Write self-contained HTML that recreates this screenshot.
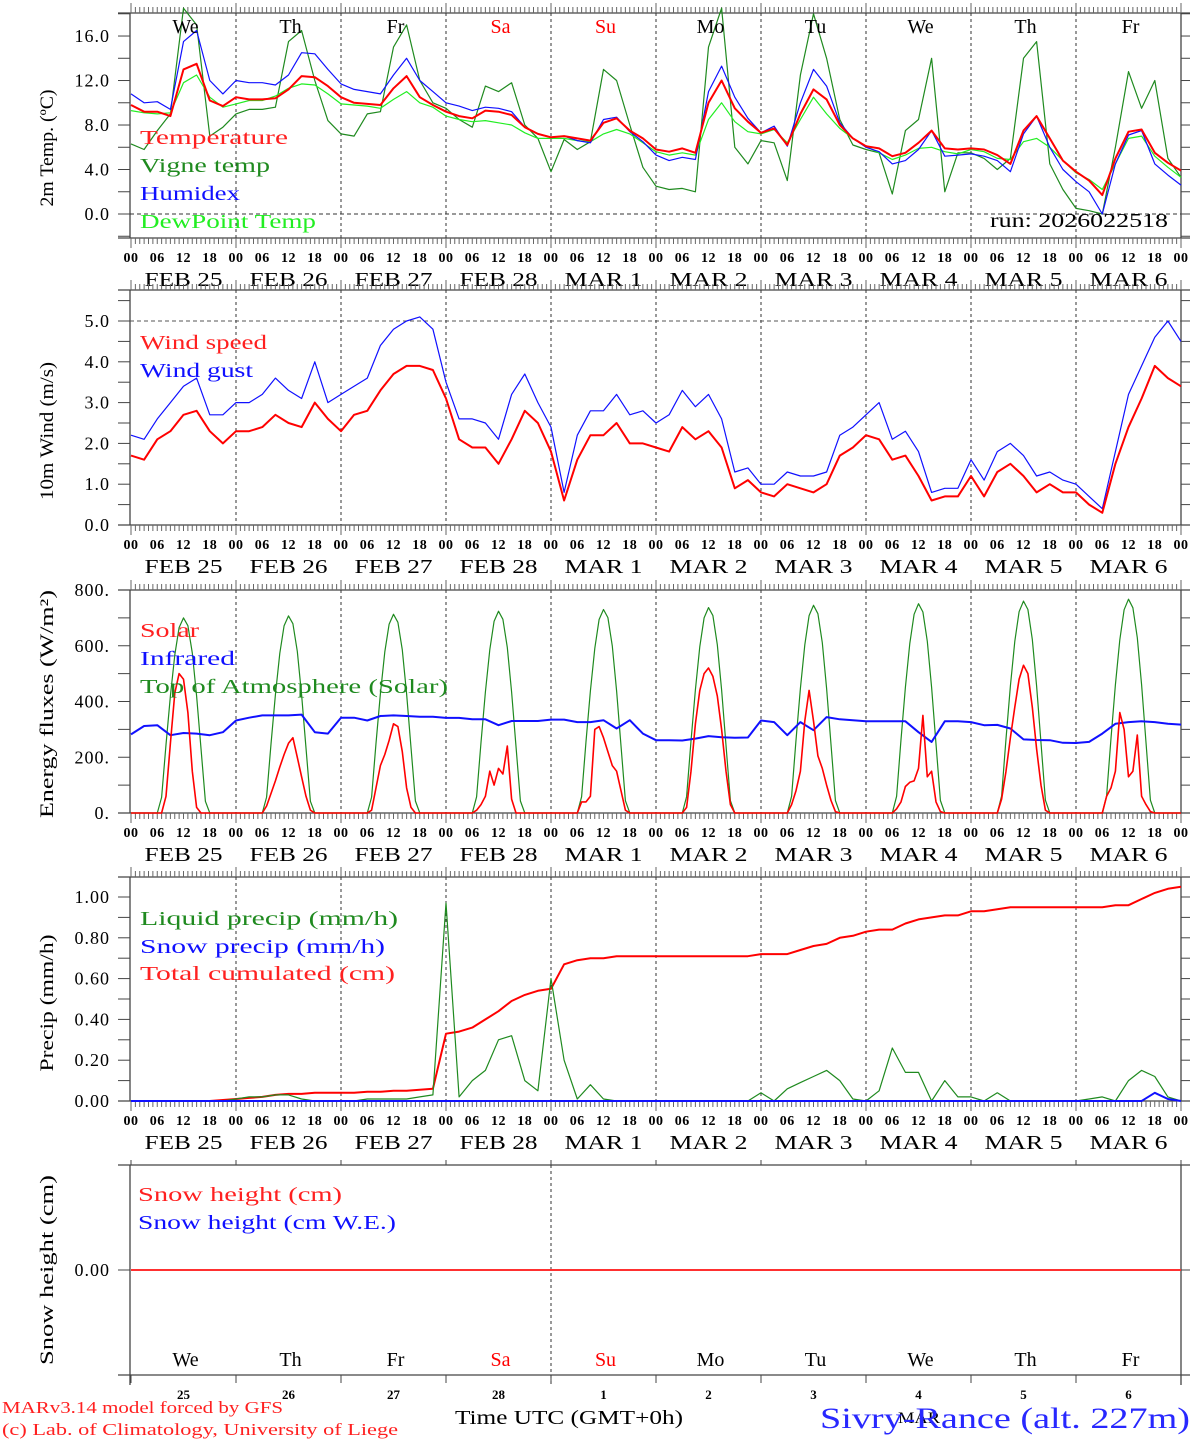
<!DOCTYPE html>
<html><head><meta charset="utf-8">
<style>
html,body{margin:0;padding:0;background:#fff;}
svg{display:block;font-family:"Liberation Serif",serif;}
</style></head>
<body>
<svg id="chart" width="1194" height="1440" viewBox="0 0 1194 1440" xmlns="http://www.w3.org/2000/svg"></svg>
<script>
// ---------- DATA (3-hourly, 81 points, Feb 25 00 UTC → Mar 7 00 UTC) ----------
const days = ["We","Th","Fr","Sa","Su","Mo","Tu","We","Th","Fr"];
const dayColors = ["#000","#000","#000","#f00","#f00","#000","#000","#000","#000","#000"];
const dateLabels = ["FEB 25","FEB 26","FEB 27","FEB 28","MAR  1","MAR  2","MAR  3","MAR  4","MAR  5","MAR  6"];
const dayNums = ["25","26","27","28","1","2","3","4","5","6"];
const hourLabels = ["00","06","12","18"];

const temp = [9.8,9.2,9.2,8.8,13.0,13.5,10.2,9.7, 10.5,10.3,10.3,10.4,11.2,12.4,12.3,11.5, 10.5,10.0,9.9,9.8,11.3,12.4,10.5,9.8,
  9.2,8.8,8.6,9.3,9.2,8.9,7.8,7.2, 6.9,7.0,6.8,6.6,8.2,8.6,7.5,6.8, 5.8,5.6,5.9,5.5,10.0,12.0,9.5,8.3,
  7.3,7.7,6.2,9.0,11.2,10.3,8.0,6.8, 6.1,5.9,5.2,5.5,6.4,7.5,5.9,5.8, 5.9,5.8,5.3,4.5,7.5,8.8,6.8,4.8,
  3.8,3.0,1.7,5.0,7.4,7.6,5.5,4.6, 3.9];
const humidex = [10.8,10.0,10.1,9.4,15.5,16.5,12.0,10.8, 12.0,11.8,11.8,11.6,12.5,14.5,14.4,13.0, 11.7,11.2,11.0,10.8,12.5,14.0,12.0,11.0,
  10.0,9.7,9.3,9.6,9.5,9.2,7.8,7.2, 6.9,7.0,6.6,6.4,8.5,8.7,7.4,6.5, 5.3,4.8,5.1,4.9,11.0,13.3,10.5,8.6,
  7.3,7.9,6.1,10.0,13.0,11.5,8.2,6.8, 6.0,5.6,4.5,4.8,5.8,7.5,5.2,5.3, 5.4,5.2,4.8,3.8,7.2,8.8,6.0,4.0,
  2.9,2.0,0.0,4.5,7.1,7.5,4.5,3.5, 2.6];
const dewpoint = [9.3,9.1,9.0,9.1,11.8,12.5,10.5,9.6, 9.9,10.2,10.2,10.6,11.3,11.7,11.6,10.8, 9.9,9.8,9.7,9.5,10.3,11.0,10.0,9.6,
  8.8,8.5,8.3,8.4,8.2,8.0,7.3,6.8, 6.8,6.8,6.6,6.5,7.2,7.6,7.2,6.4, 5.6,5.3,5.5,5.3,8.5,10.0,8.3,7.4,
  7.2,7.6,6.4,8.5,10.5,9.0,7.7,6.8, 6.1,5.5,4.9,5.3,5.9,6.0,5.6,5.4, 5.8,5.6,5.0,4.9,6.5,6.8,6.0,4.8,
  3.7,3.1,2.2,4.5,6.8,7.0,5.2,4.2, 3.3];
const vigne = [6.3,5.8,7.5,9.0,18.5,17.0,7.0,7.8, 9.0,9.4,9.4,9.6,15.5,16.5,12.0,8.4, 7.2,7.0,9.0,9.2,15.0,17.0,12.0,10.0,
  9.5,8.5,7.8,11.5,11.0,11.8,8.0,6.8, 3.8,6.7,5.8,6.5,13.0,12.0,8.0,4.2, 2.5,2.2,2.3,2.0,15.0,18.5,6.0,4.5,
  6.6,6.4,3.0,12.5,18.0,14.0,8.5,6.2, 5.8,5.5,1.8,7.5,8.5,14.0,2.0,5.5, 5.5,5.0,4.0,5.0,14.0,15.5,4.5,2.2,
  0.5,0.3,0.0,6.0,12.8,9.5,12.0,5.0, 3.3];

const windSpeed = [1.7,1.6,2.1,2.3,2.7,2.8,2.3,2.0, 2.3,2.3,2.4,2.7,2.5,2.4,3.0,2.6, 2.3,2.7,2.8,3.3,3.7,3.9,3.9,3.8,
  3.1,2.1,1.9,1.9,1.5,2.1,2.8,2.5, 1.8,0.6,1.6,2.2,2.2,2.5,2.0,2.0, 1.9,1.8,2.4,2.1,2.3,1.9,0.9,1.1,
  0.8,0.7,1.0,0.9,0.8,1.0,1.7,1.9, 2.2,2.1,1.6,1.7,1.2,0.6,0.7,0.7, 1.2,0.7,1.3,1.5,1.2,0.8,1.0,0.8,
  0.8,0.5,0.3,1.5,2.4,3.1,3.9,3.6, 3.4];
const windGust = [2.2,2.1,2.6,3.0,3.4,3.6,2.7,2.7, 3.0,3.0,3.2,3.6,3.3,3.1,4.0,3.0, 3.2,3.4,3.6,4.4,4.8,5.0,5.1,4.8,
  3.5,2.6,2.6,2.5,2.1,3.2,3.7,3.0, 2.4,0.8,2.2,2.8,2.8,3.2,2.7,2.8, 2.5,2.7,3.3,2.9,3.2,2.6,1.3,1.4,
  1.0,1.0,1.3,1.2,1.2,1.3,2.2,2.4, 2.7,3.0,2.1,2.3,1.8,0.8,0.9,0.9, 1.6,1.1,1.8,2.0,1.7,1.2,1.3,1.1,
  1.0,0.7,0.4,1.8,3.2,3.9,4.6,5.0, 4.5];

// energy: hourly values for hours 06..18 of each day (night = 0)
const solarDay = [
  [0,0,60,250,430,500,480,360,150,20,0,0,0],
  [0,25,70,115,165,210,250,270,200,130,60,10,0],
  [0,10,90,170,210,260,320,310,220,90,20,0,0],
  [0,10,30,60,150,100,160,140,240,50,0,0,0],
  [0,40,40,60,300,310,270,220,170,150,80,10,0],
  [0,20,150,320,440,500,520,490,420,300,150,30,0],
  [0,30,80,150,330,440,330,205,160,100,45,5,0],
  [0,15,40,95,110,115,160,350,130,150,40,5,0],
  [0,50,150,270,380,480,530,500,380,230,100,10,0],
  [0,60,90,150,360,300,130,150,280,60,30,5,0]];
const toaDay = [
  [0,56,245,420,567,665,700,672,574,420,231,42,0],
  [0,57,247,424,573,672,707,679,580,424,233,42,0],
  [0,57,250,428,578,677,713,684,585,428,235,43,0],
  [0,58,253,434,586,688,724,695,594,434,239,43,0],
  [0,58,256,438,591,694,730,701,599,438,241,44,0],
  [0,59,258,442,597,700,737,708,604,442,243,44,0],
  [0,60,261,447,603,708,745,715,611,447,246,45,0],
  [0,60,263,451,608,713,751,721,616,451,248,45,0],
  [0,61,266,456,616,722,760,730,623,456,251,46,0],
  [0,61,268,460,621,729,767,736,629,460,253,46,0]];
const infrared = [282,312,315,279,287,285,279,290, 332,342,350,350,350,353,290,285, 342,342,332,348,350,348,345,345,
  341,341,336,336,315,330,330,330, 335,335,326,326,333,303,333,285, 261,261,260,267,276,272,270,271,
  332,326,279,326,297,344,336,333, 329,329,329,329,290,255,329,329, 326,315,316,303,264,262,261,252,
  251,255,285,320,326,329,326,320, 317];

const liquid = [0,0,0,0,0,0,0,0, 0.01,0.02,0.02,0.03,0.03,0.01,0,0, 0,0,0.01,0.01,0.01,0.01,0.02,0.03,
  0.97,0.02,0.1,0.15,0.3,0.32,0.1,0.05, 0.6,0.2,0.01,0.08,0.01,0,0,0, 0,0,0,0,0,0,0,0,
  0.04,0,0.06,0.09,0.12,0.15,0.1,0.01, 0,0.05,0.26,0.14,0.14,0.0,0.1,0.02, 0.02,0,0.04,0,0,0,0,0,
  0,0.01,0.02,0,0.1,0.15,0.12,0.02, 0];
const snowPrecip = [0,0,0,0,0,0,0,0, 0,0,0,0,0,0,0,0, 0,0,0,0,0,0,0,0, 0,0,0,0,0,0,0,0, 0,0,0,0,0,0,0,0,
  0,0,0,0,0,0,0,0, 0,0,0,0,0,0,0,0, 0,0,0,0,0,0,0,0, 0,0,0,0,0,0,0,0, 0,0,0,0,0,0,0.04,0.01, 0];
const cumul = [0,0,0,0,0,0,0,0.005, 0.01,0.015,0.02,0.03,0.035,0.035,0.04,0.04, 0.04,0.04,0.045,0.045,0.05,0.05,0.055,0.06,
  0.33,0.34,0.36,0.40,0.44,0.49,0.52,0.54, 0.55,0.67,0.69,0.70,0.70,0.71,0.71,0.71, 0.71,0.71,0.71,0.71,0.71,0.71,0.71,0.71,
  0.72,0.72,0.72,0.74,0.76,0.77,0.80,0.81, 0.83,0.84,0.84,0.87,0.89,0.90,0.91,0.91, 0.93,0.93,0.94,0.95,0.95,0.95,0.95,0.95,
  0.95,0.95,0.95,0.96,0.96,0.99,1.02,1.04, 1.05];
const snowHeight = new Array(81).fill(0);
const snowWE = new Array(81).fill(0);

const yTicksTemp = [0,4,8,12,16];
const yTicksWind = [0,1,2,3,4,5];
const yTicksEnergy = [0,200,400,600,800];
const yTicksPrecip = [0,0.2,0.4,0.6,0.8,1.0];

// ---------- RENDER ----------
const NS = "http://www.w3.org/2000/svg";
const svg = document.getElementById("chart");
const X0 = 131, X1 = 1181;
const xH = h => X0 + h * (X1 - X0) / 240;
function el(tag, attrs, parent) {
  const e = document.createElementNS(NS, tag);
  for (const k in attrs) e.setAttribute(k, attrs[k]);
  (parent || svg).appendChild(e);
  return e;
}
function txt(str, attrs, parent) {
  const e = el("text", attrs, parent);
  e.setAttribute("xml:space", "preserve");
  e.textContent = str;
  return e;
}
function yScale(p) { return v => p.bot - (v - p.min) * (p.bot - p.top) / (p.max - p.min); }

const panels = [
  {top:13, bot:238, min:-2.157, max:18.07, ticks:yTicksTemp, minor:2, fmt:v=>v.toFixed(1), title:"2m Temp. (ºC)", tcy:148, tlen:117, name:"temperature-panel"},
  {top:290, bot:525, min:0, max:5.76, ticks:yTicksWind, minor:0.5, fmt:v=>v.toFixed(1), title:"10m Wind (m/s)", tcy:431, tlen:138, name:"wind-panel"},
  {top:590, bot:813, min:0, max:800, ticks:yTicksEnergy, minor:100, fmt:v=>v.toFixed(0)+".", title:"Energy fluxes (W/m²)", tcy:704, tlen:228, name:"energy-panel"},
  {top:877, bot:1101, min:0, max:1.098, ticks:yTicksPrecip, minor:0.1, fmt:v=>v.toFixed(2), title:"Precip (mm/h)", tcy:1003, tlen:137, name:"precip-panel"}
];

panels.forEach((p, pi) => {
  const g = el("g", { });
  const y = yScale(p);
  el("line", {x1:118, y1:p.top, x2:1190, y2:p.top, stroke:"#444", "stroke-width":1.3}, g);
  el("line", {x1:118, y1:p.bot, x2:1190, y2:p.bot, stroke:"#444", "stroke-width":1.3}, g);
  el("line", {x1:130, y1:p.top, x2:130, y2:p.bot, stroke:"#444", "stroke-width":1.3}, g);
  el("line", {x1:1181, y1:p.top, x2:1181, y2:p.bot, stroke:"#444", "stroke-width":1.3}, g);
  for (let h = 0; h <= 240; h++) {
    const x = xH(h), major = h % 24 === 0, len = major ? 10 : 6;
    el("line", {x1:x, y1:p.top, x2:x, y2:p.top - len, stroke:"#666", "stroke-width":1}, g);
    el("line", {x1:x, y1:p.bot, x2:x, y2:p.bot + len, stroke:"#666", "stroke-width":1}, g);
  }
  for (let d = 1; d < 10; d++) {
    el("line", {x1:xH(24*d), y1:p.top, x2:xH(24*d), y2:p.bot, stroke:"#333", "stroke-width":1, "stroke-dasharray":"3,3"}, g);
  }
  for (let v = p.min < 0 ? 0 : p.min; v <= p.max + 1e-9; v += p.minor) {
    const yy = y(v);
    el("line", {x1:118, y1:yy, x2:130, y2:yy, stroke:"#444", "stroke-width":1}, g);
    el("line", {x1:1181, y1:yy, x2:1190, y2:yy, stroke:"#444", "stroke-width":1}, g);
  }
  if (p.min < 0) { const yy = y(-2); el("line", {x1:118, y1:yy, x2:130, y2:yy, stroke:"#444"}, g); el("line", {x1:1181, y1:yy, x2:1190, y2:yy, stroke:"#444"}, g); }
  p.ticks.forEach(v => {
    const t = txt(p.fmt(v), {x:110, y:y(v)+6, "text-anchor":"end", "font-size":18, "letter-spacing":1}, g);
    
    
  });
  const tt = txt(p.title, {x:0, y:0, transform:`translate(53,${p.tcy}) rotate(-90)`, "text-anchor":"middle", "font-size":19, textLength:p.tlen, lengthAdjust:"spacingAndGlyphs"}, g);
  
  
  for (let d = 0; d <= 10; d++) {
    for (let k = 0; k < 4; k++) {
      if (d === 10 && k > 0) break;
      const h = 24*d + 6*k;
      const t = txt(hourLabels[k], {x:xH(h), y:p.bot+24, "text-anchor":"middle", "font-size":14, "font-weight":"bold", "letter-spacing":0.5}, g);
      
      
    }
    if (d < 10) {
      const t = txt(dateLabels[d], {x:xH(24*d+12), y:p.bot+48, "text-anchor":"middle", "font-size":20, textLength:78, lengthAdjust:"spacingAndGlyphs"}, g);
      
      
    }
  }
  p.g = g; p.y = y;
});

function series(values, p, color, width, name, stepH) {
  const pts = values.map((v, i) => xH(i*(stepH||3)).toFixed(1) + "," + p.y(v).toFixed(1)).join(" ");
  const pl = el("polyline", {points:pts, fill:"none", stroke:color, "stroke-width":width, "stroke-linejoin":"round"}, p.g);
  
  
  return pl;
}
function dailySeries(dayArr, p, color, width, name) {
  const pts = [[0,0]];
  dayArr.forEach((arr, d) => arr.forEach((v, k) => pts.push([24*d+6+k, v])));
  pts.push([240,0]);
  const s = pts.map(q => xH(q[0]).toFixed(1) + "," + p.y(q[1]).toFixed(1)).join(" ");
  const pl = el("polyline", {points:s, fill:"none", stroke:color, "stroke-width":width, "stroke-linejoin":"round"}, p.g);
  
  
}
function legend(p, str, color, y, len, name) {
  const t = txt(str, {x:140, y:y, fill:color, "font-size":20, textLength:len, lengthAdjust:"spacingAndGlyphs"}, p.g);
  
  
}

// Panel 1
const P1 = panels[0];
el("line", {x1:130, y1:P1.y(0), x2:1181, y2:P1.y(0), stroke:"#333", "stroke-dasharray":"4,3"}, P1.g);
series(vigne, P1, "#1f8a1f", 1.2, "vigne-temp-line");
series(dewpoint, P1, "#22ee22", 1.2, "dewpoint-line");
series(humidex, P1, "#1010ff", 1.2, "humidex-line");
series(temp, P1, "#ff0000", 2, "temperature-line");
days.forEach((d, i) => {
  const t = txt(d, {x:xH(24*i+12)+2, y:33, "text-anchor":"middle", fill:dayColors[i], "font-size":20}, P1.g);
  
  
});
legend(P1, "Temperature", "#ff2020", 144, 148, "legend-temperature");
legend(P1, "Vigne temp", "#1f8a1f", 172, 130, "legend-vigne-temp");
legend(P1, "Humidex", "#1010ff", 200, 100, "legend-humidex");
legend(P1, "DewPoint Temp", "#22ee22", 228, 176, "legend-dewpoint");
{ const t = txt("run: 2026022518", {x:990, y:227, "font-size":20, textLength:178, lengthAdjust:"spacingAndGlyphs"}, P1.g);
    }

// Panel 2
const P2 = panels[1];
el("line", {x1:130, y1:P2.y(5), x2:1181, y2:P2.y(5), stroke:"#555", "stroke-dasharray":"4,3"}, P2.g);
series(windGust, P2, "#1010ff", 1.2, "wind-gust-line");
series(windSpeed, P2, "#ff0000", 2, "wind-speed-line");
legend(P2, "Wind speed", "#ff2020", 349, 127, "legend-wind-speed");
legend(P2, "Wind gust", "#1010ff", 377, 113, "legend-wind-gust");

// Panel 3
const P3 = panels[2];
dailySeries(toaDay, P3, "#1f8a1f", 1.2, "toa-solar-line");
series(infrared, P3, "#1010ff", 2, "infrared-line");
dailySeries(solarDay, P3, "#ff0000", 1.6, "solar-line");
legend(P3, "Solar", "#ff2020", 637, 59, "legend-solar");
legend(P3, "Infrared", "#1010ff", 665, 95, "legend-infrared");
legend(P3, "Top of Atmosphere (Solar)", "#1f8a1f", 693, 308, "legend-toa");

// Panel 4
const P4 = panels[3];
series(cumul, P4, "#ff0000", 2, "total-cumulated-line");
series(liquid, P4, "#1f8a1f", 1.2, "liquid-precip-line");
series(snowPrecip, P4, "#1010ff", 2, "snow-precip-line");
legend(P4, "Liquid precip (mm/h)", "#1f8a1f", 925, 258, "legend-liquid-precip");
legend(P4, "Snow precip (mm/h)", "#1010ff", 953, 245, "legend-snow-precip");
legend(P4, "Total cumulated (cm)", "#ff2020", 980, 255, "legend-total-cumulated");

// Panel 5 (snow)
const P5 = {top:1165, bot:1375, min:-1, max:1};
P5.y = yScale(P5);
P5.g = el("g", { });
el("line", {x1:118, y1:P5.top, x2:1190, y2:P5.top, stroke:"#444", "stroke-width":1.3}, P5.g);
el("line", {x1:118, y1:P5.bot, x2:1190, y2:P5.bot, stroke:"#444", "stroke-width":1.3}, P5.g);
el("line", {x1:130, y1:P5.top, x2:130, y2:P5.bot+10, stroke:"#444", "stroke-width":1.3}, P5.g);
el("line", {x1:1181, y1:P5.top, x2:1181, y2:P5.bot+10, stroke:"#444", "stroke-width":1.3}, P5.g);
for (let d = 0; d <= 10; d++) {
  el("line", {x1:xH(24*d), y1:P5.top, x2:xH(24*d), y2:P5.top-5, stroke:"#444"}, P5.g);
  el("line", {x1:xH(24*d), y1:P5.bot, x2:xH(24*d), y2:P5.bot+8, stroke:"#444"}, P5.g);
}
el("line", {x1:xH(96), y1:P5.top, x2:xH(96), y2:P5.bot+10, stroke:"#333", "stroke-dasharray":"3,3"}, P5.g);
el("line", {x1:118, y1:P5.y(0), x2:130, y2:P5.y(0), stroke:"#444"}, P5.g);
el("line", {x1:1181, y1:P5.y(0), x2:1190, y2:P5.y(0), stroke:"#444"}, P5.g);
{ const t = txt("0.00", {x:110, y:P5.y(0)+6, "text-anchor":"end", "font-size":18, "letter-spacing":1}, P5.g);
    }
{ const t = txt("Snow height (cm)", {x:0, y:0, transform:"translate(53,1270) rotate(-90)", "text-anchor":"middle", "font-size":19, textLength:190, lengthAdjust:"spacingAndGlyphs"}, P5.g);
    }
series(snowWE, P5, "#1010ff", 2, "snow-we-line");
series(snowHeight, P5, "#ff3030", 2, "snow-height-line");
{ const t = txt("Snow height (cm)", {x:138, y:1201, fill:"#ff2020", "font-size":20, textLength:204, lengthAdjust:"spacingAndGlyphs"}, P5.g);
    }
{ const t = txt("Snow height (cm W.E.)", {x:138, y:1229, fill:"#1010ff", "font-size":20, textLength:258, lengthAdjust:"spacingAndGlyphs"}, P5.g);
    }
days.forEach((d, i) => {
  const t = txt(d, {x:xH(24*i+12)+2, y:1366, "text-anchor":"middle", fill:dayColors[i], "font-size":20}, P5.g);
  
  
  const n = txt(dayNums[i], {x:xH(24*i+12), y:1399, "text-anchor":"middle", "font-size":13, "font-weight":"bold"}, P5.g);
  
  
});

// Footer
const foot = el("g", { });
[["MARv3.14 model forced by GFS", 2, 1413, 281, "#ff2020", 17, "model-credit"],
 ["(c) Lab. of Climatology, University of Liege", 2, 1435, 396, "#ff2020", 17, "lab-credit"],
 ["Time UTC (GMT+0h)", 455, 1424, 228, "#000", 20, "x-axis-title"],
 ["MAR", 898, 1423, 42, "#000", 16, "month-label"],
 ["Sivry-Rance (alt. 227m)", 820, 1428, 370, "#2828ff", 30, "station-title"]].forEach(a => {
  const t = txt(a[0], {x:a[1], y:a[2], fill:a[4], "font-size":a[5], textLength:a[3], lengthAdjust:"spacingAndGlyphs"}, foot);
  
  
});
</script>
</body></html>
